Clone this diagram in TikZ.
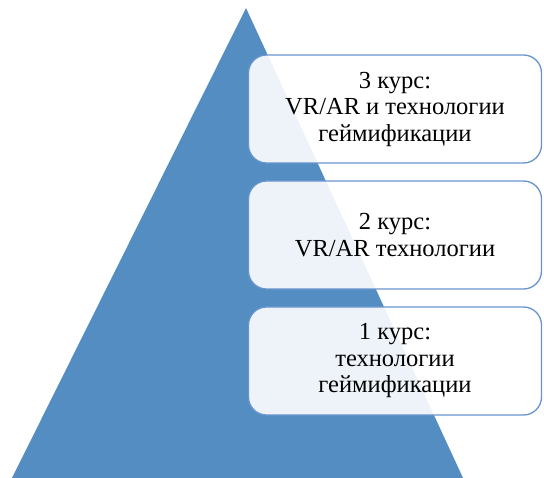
\documentclass[tikz,border=0pt]{standalone}
\usepackage{fontspec}
\setmainfont{Liberation Serif}
\definecolor{pyrblue}{RGB}{83,141,194}
\definecolor{boxline}{RGB}{104,148,206}
\begin{document}
\begin{tikzpicture}[x=1pt,y=-1pt,
    level/.style={draw=boxline, line width=1.3pt, fill=white, fill opacity=0.9,
      text opacity=1, rounded corners=18pt, minimum width=293pt,
      minimum height=108pt, align=center, font=\fontsize{24.5}{26.5}\selectfont}]
  \useasboundingbox (0,0) rectangle (544,478);
  \coordinate (apex) at (246,8);
  \coordinate (baseL) at (12,478);
  \coordinate (baseR) at (463,478);
  \fill[pyrblue] (apex) -- (baseL) -- (baseR) -- cycle;
  \node[level] (year3) at (395,109) {3 курс:\\VR/AR и технологии\\геймификации};
  \node[level] (year2) at (395,235) {2 курс:\\VR/AR технологии};
  \node[level] (year1) at (395,361) {1 курс:\\технологии\\геймификации};
\end{tikzpicture}
\end{document}
